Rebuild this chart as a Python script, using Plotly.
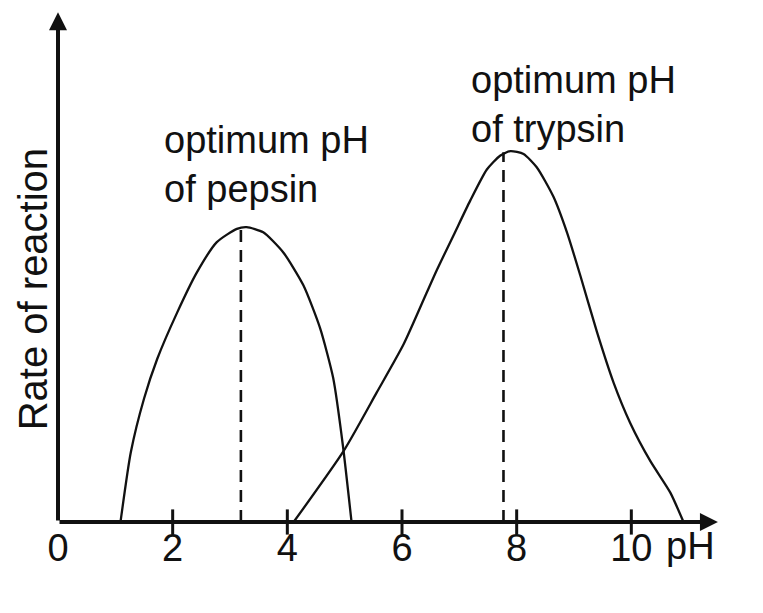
import plotly.graph_objects as go

# ---- data ----
pepsin_ph = [1.09, 1.27, 1.50, 1.73, 2.08, 2.42, 2.77, 3.12, 3.29, 3.58, 3.93, 4.28, 4.57, 4.80, 4.97, 5.12]
pepsin_rate = [0, 1.21, 2.14, 2.83, 3.64, 4.33, 4.86, 5.09, 5.12, 5.03, 4.68, 4.11, 3.37, 2.50, 1.32, 0]

trypsin_ph = [4.11, 4.98, 5.56, 6.03, 6.43, 6.61, 6.90, 7.19, 7.48, 7.71, 7.89, 8.12, 8.35,
              8.64, 8.88, 9.11, 9.40, 9.69, 9.98, 10.33, 10.68, 10.91]
trypsin_rate = [0, 1.23, 2.25, 3.09, 3.98, 4.38, 4.98, 5.58, 6.12, 6.36, 6.44, 6.39, 6.16,
                5.65, 5.02, 4.28, 3.30, 2.42, 1.72, 1.06, 0.51, 0]

optimum_ph = [3.19, 7.77]
optimum_rate = [5.11, 6.42]
optimum_labels = ["optimum pH<br>of pepsin", "optimum pH<br>of trypsin"]
label_ph = [3.63, 8.99]
label_rate = [6.20, 7.25]

tick_values = [0, 2, 4, 6, 8, 10]
tick_text = ["0", "2", "4", "6", "8", "10"]
cross_ticks = [2, 4, 6, 8, 10]

x_label = "pH"
y_label = "Rate of reaction"

FONT = "Liberation Sans, Arial, Helvetica, sans-serif"
INK = "#111111"

fig = go.Figure()

fig.add_trace(go.Scatter(
    x=pepsin_ph, y=pepsin_rate, mode="lines",
    line=dict(color=INK, width=2.3, shape="spline", smoothing=0.6),
    hoverinfo="skip", showlegend=False, cliponaxis=False))

fig.add_trace(go.Scatter(
    x=trypsin_ph, y=trypsin_rate, mode="lines",
    line=dict(color=INK, width=2.3, shape="spline", smoothing=0.6),
    hoverinfo="skip", showlegend=False, cliponaxis=False))

# dashed optimum lines
for px, pr in zip(optimum_ph, optimum_rate):
    fig.add_trace(go.Scatter(
        x=[px, px], y=[0, pr], mode="lines",
        line=dict(color=INK, width=2.6, dash="12px,8px"),
        hoverinfo="skip", showlegend=False, cliponaxis=False))

# small cross ticks on the pH axis
fig.add_trace(go.Scatter(
    x=cross_ticks, y=[0] * len(cross_ticks), mode="markers",
    marker=dict(symbol="line-ns", size=18, line=dict(color=INK, width=3)),
    hoverinfo="skip", showlegend=False, cliponaxis=False))

annotations = []
# axes with arrow heads
annotations.append(dict(x=11.51, y=0, ax=0, ay=0, xref="x", yref="y", axref="x", ayref="y",
                        showarrow=True, arrowhead=2, arrowsize=0.9, arrowwidth=4,
                        arrowcolor=INK, text=""))
annotations.append(dict(x=0, y=8.85, ax=0, ay=0, xref="x", yref="y", axref="x", ayref="y",
                        showarrow=True, arrowhead=2, arrowsize=0.9, arrowwidth=4,
                        arrowcolor=INK, text=""))

for txt, lx, ly in zip(optimum_labels, label_ph, label_rate):
    annotations.append(dict(x=lx, y=ly, xref="x", yref="y", text=txt, showarrow=False,
                            xanchor="center", yanchor="middle", align="left",
                            font=dict(family=FONT, size=38, color=INK)))

annotations.append(dict(x=0.919, y=-0.047, xref="paper", yref="paper", text=x_label,
                        showarrow=False, xanchor="center", yanchor="middle",
                        font=dict(family=FONT, size=38, color=INK)))
annotations.append(dict(x=-0.036, y=0.455, xref="paper", yref="paper", text=y_label,
                        showarrow=False, textangle=-90, xanchor="center", yanchor="middle",
                        font=dict(family=FONT, size=40, color=INK)))

fig.update_layout(
    width=755, height=605,
    margin=dict(l=50, r=17, t=2, b=91),
    paper_bgcolor="white", plot_bgcolor="white",
    annotations=annotations,
    xaxis=dict(range=[0, 12.0], showgrid=False, zeroline=False, showline=False,
               automargin=False,
               tickmode="array", tickvals=tick_values, ticktext=tick_text, ticks="",
               tickfont=dict(family=FONT, size=38, color=INK), fixedrange=True),
    yaxis=dict(range=[0, 8.89], showgrid=False, zeroline=False, showline=False,
               automargin=False,
               showticklabels=False, ticks="", fixedrange=True),
)

fig.write_html("out.html")
